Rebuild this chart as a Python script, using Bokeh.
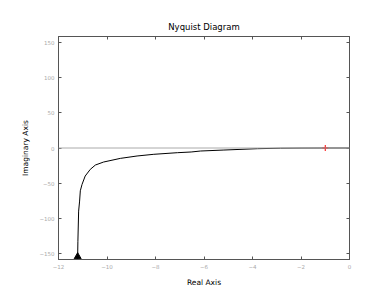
from bokeh.plotting import figure
from bokeh.models import Span, LinearAxis, FixedTicker, Range1d
from bokeh.embed import file_html
from bokeh.resources import INLINE

# Nyquist curve (negative-imaginary branch)
re_vals = [-11.22, -11.21, -11.20, -11.17, -11.13, -11.10, -11.03, -10.90, -10.69,
           -10.48, -10.14, -9.45, -8.76, -8.07, -7.10, -6.53, -6.14, -5.18,
           -3.80, -2.84, -2.00, -1.00, 0.00]
im_vals = [-170.0, -154.0, -133.0, -90.0, -75.7, -61.0, -52.0, -40.0, -30.5,
           -24.3, -20.0, -14.8, -11.4, -9.0, -6.7, -5.7, -4.3, -2.9,
           -1.0, -0.3, -0.1, -0.02, 0.0]
arrow_re = [-11.21]
arrow_im = [-155.0]
crit_re = [-1.0]
crit_im = [0.0]
x_ticks = [-12, -10, -8, -6, -4, -2, 0]
y_ticks = [-150, -100, -50, 0, 50, 100, 150]

p = figure(width=385, height=291, output_backend="svg", toolbar_location=None,
           x_range=Range1d(-12, 0), y_range=Range1d(-159, 159),
           title="Nyquist Diagram",
           min_border_left=58, min_border_right=36, min_border_top=36,
           min_border_bottom=32)
p.background_fill_color = "white"
p.border_fill_color = "white"
p.outline_line_color = "#555555"
p.grid.visible = False

p.title.align = "center"
p.title.text_font = "DejaVu Sans"
p.title.text_font_size = "8.5px"
p.title.text_font_style = "normal"
p.title.text_color = "black"
p.title.offset = 0

def style_axis(ax, show_labels):
    ax.axis_line_color = "#555555"
    ax.major_tick_line_color = "#555555"
    ax.major_tick_in = 3
    ax.major_tick_out = 0
    ax.minor_tick_line_color = None
    ax.major_label_text_font = "DejaVu Sans"
    ax.major_label_text_font_size = "5.5px"
    ax.major_label_text_color = "#aaaaaa"
    ax.major_label_standoff = 4
    if not show_labels:
        ax.major_label_text_font_size = "0px"
        ax.major_label_text_color = None

p.xaxis.ticker = FixedTicker(ticks=x_ticks)
p.yaxis.ticker = FixedTicker(ticks=y_ticks)
style_axis(p.xaxis[0], True)
style_axis(p.yaxis[0], True)
p.xaxis.axis_label = "Real Axis"
p.yaxis.axis_label = "Imaginary Axis"
for ax in (p.xaxis[0], p.yaxis[0]):
    ax.axis_label_text_font = "DejaVu Sans"
    ax.axis_label_text_font_size = "7.5px"
    ax.axis_label_text_font_style = "normal"
    ax.axis_label_text_color = "black"
    ax.axis_label_standoff = 6

top = LinearAxis(ticker=FixedTicker(ticks=x_ticks))
style_axis(top, False)
p.add_layout(top, "above")
right = LinearAxis(ticker=FixedTicker(ticks=y_ticks))
style_axis(right, False)
p.add_layout(right, "right")

p.add_layout(Span(location=0, dimension="width", line_color="#aaaaaa", line_width=1))

p.line(re_vals, im_vals, line_color="black", line_width=1.0)
p.scatter(arrow_re, arrow_im, marker="triangle", size=7, fill_color="black",
          line_color="black")
p.scatter(crit_re, crit_im, marker="cross", size=6, line_color="red", line_width=1)

open("out.html", "w").write(file_html(p, INLINE))
